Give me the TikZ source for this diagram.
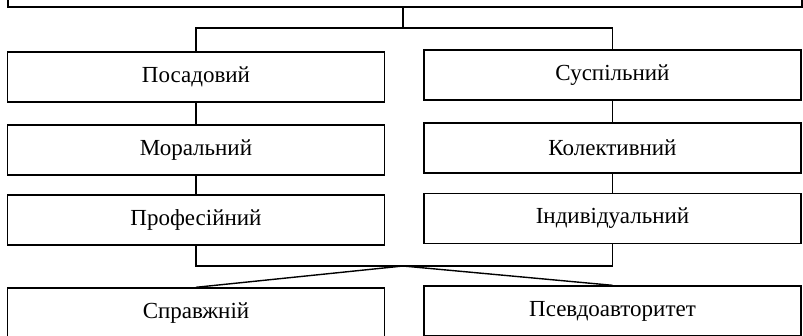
\documentclass[tikz,border=0pt]{standalone}
\usepackage{fontspec}
\setmainfont{Liberation Serif}
\begin{document}
\begin{tikzpicture}[x=1pt,y=-1pt,
  box/.style={draw, line width=1.4pt, minimum width=377pt, minimum height=50pt,
    inner sep=0pt, font=\fontsize{23}{26}\selectfont},
  conn/.style={draw, line width=1.4pt}]
\useasboundingbox (0,0) rectangle (803,335);
\clip (0,0) rectangle (803,335);
\node[box, minimum width=794pt, minimum height=40pt] (top) at (405,-13) {};
\node[box] (p1) at (196,77) {Посадовий};
\node[box] (p2) at (196,150) {Моральний};
\node[box] (p3) at (196,220) {Професійний};
\node[box] (s1) at (612.5,75) {Суспільний};
\node[box] (s2) at (612.5,148) {Колективний};
\node[box] (s3) at (612.5,218.5) {Індивідуальний};
\node[box] (r1) at (196,313) {Справжній};
\node[box] (r2) at (612.5,311) {Псевдоавторитет};
\coordinate (split) at (403,28);
\coordinate (mid) at (403,266);
\draw[conn] (top.south -| split) -- (split);
\draw[conn] (p1.north) |- (split) -| (s1.north);
\draw[conn] (p1) -- (p2);
\draw[conn] (p2) -- (p3);
\draw[conn] (s1) -- (s2);
\draw[conn] (s2) -- (s3);
\draw[conn] (p3.south) |- (mid) -| (s3.south);
\draw[conn] (mid) -- (r1.north);
\draw[conn] (mid) -- (r2.north);
\end{tikzpicture}
\end{document}
